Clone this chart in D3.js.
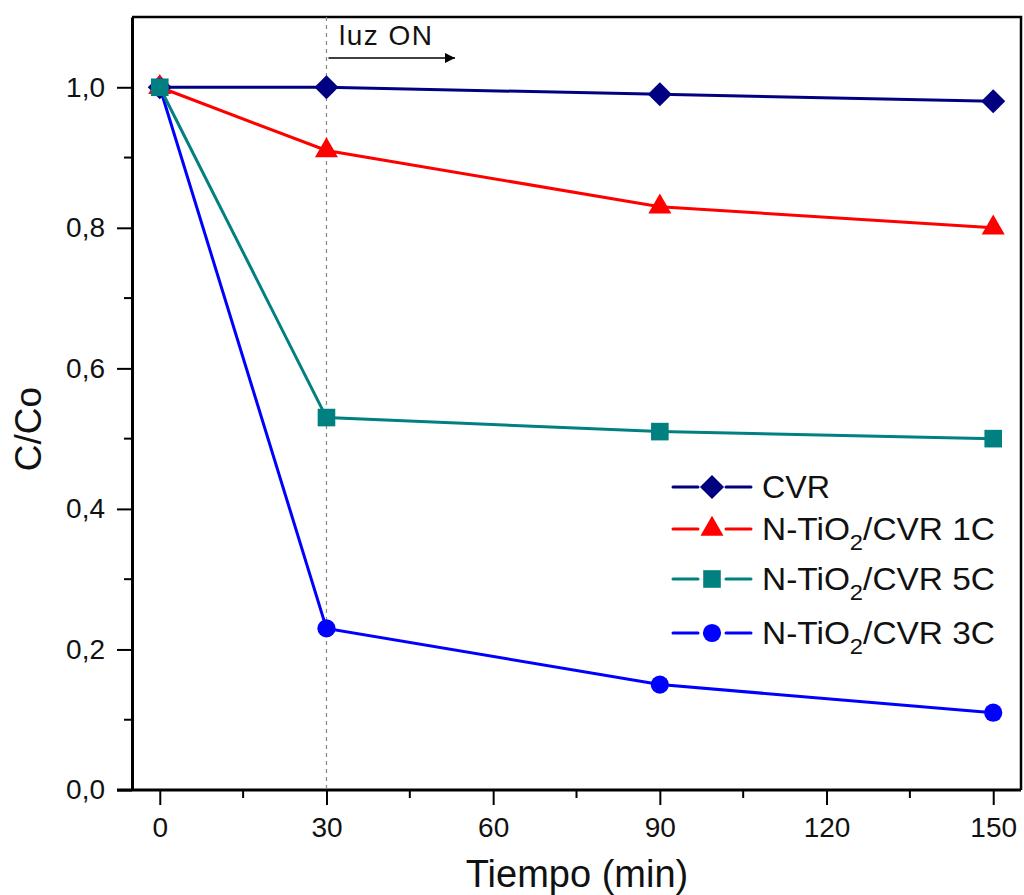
<!DOCTYPE html>
<html lang="es">
<head>
<meta charset="UTF-8">
<title>C/Co vs Tiempo</title>
<script src="https://d3js.org/d3.v7.min.js"></script>
<style>
  body { margin: 0; background: #fff; }
  svg { display: block; font-family: "Liberation Sans", Arial, sans-serif; }
</style>
</head>
<body>
<svg id="chart" width="1024" height="895"></svg>
<script>
// data
var tiempo = [0, 30, 90, 150];
var cvr    = [1.00, 1.00, 0.99, 0.98];
var tio1C  = [1.00, 0.91, 0.83, 0.80];
var tio5C  = [1.00, 0.53, 0.51, 0.50];
var tio3C  = [1.00, 0.23, 0.15, 0.11];
var xTicks = [0, 30, 60, 90, 120, 150];
var yTicks = [0, 0.2, 0.4, 0.6, 0.8, 1.0];
var luzOn = 30;

// drawing order: the 5C squares end on top, as in the figure
var series = [
  { name: 'CVR', sub: null, values: cvr, color: '#000080', symbol: d3.symbolSquare, rot: 45, size: 290, legendY: 487, len: 68 },
  { name: 'N-TiO', sub: '/CVR 1C', values: tio1C, color: '#ff0000', symbol: d3.symbolTriangle, rot: 0, size: 230, legendY: 529, len: 233 },
  { name: 'N-TiO', sub: '/CVR 3C', values: tio3C, color: '#0000ff', symbol: d3.symbolCircle, rot: 0, size: 260, legendY: 633, len: 233 },
  { name: 'N-TiO', sub: '/CVR 5C', values: tio5C, color: '#008080', symbol: d3.symbolSquare, rot: 0, size: 310, legendY: 579, len: 233 }
];

var mLeft = 132, mRight = 1021, mTop = 17, mBottom = 790;
var svg = d3.select('#chart');

var x = d3.scaleLinear().domain([-5, 155]).range([mLeft, mRight]);
var y = d3.scaleLinear().domain([0, 1.1]).range([mBottom, mTop]);

// frame on top and right
svg.append('path')
  .attr('d', 'M' + mLeft + ',' + mTop + 'H' + mRight + 'V' + mBottom)
  .attr('fill', 'none').attr('stroke', '#000').attr('stroke-width', 2.5);

// minor ticks
var xMinor = [15, 45, 75, 105, 135];
var yMinor = [0.1, 0.3, 0.5, 0.7, 0.9];

var xAxis = d3.axisBottom(x).tickValues(xTicks).tickSize(15).tickSizeOuter(0).tickPadding(12)
  .tickFormat(d3.format('d'));
var gx = svg.append('g').attr('transform', 'translate(0,' + mBottom + ')').call(xAxis);
svg.append('g').selectAll('line').data(xMinor).enter().append('line')
  .attr('x1', function (d) { return x(d); }).attr('x2', function (d) { return x(d); })
  .attr('y1', mBottom).attr('y2', mBottom + 8)
  .attr('stroke', '#000').attr('stroke-width', 2);

var yAxis = d3.axisLeft(y).tickValues(yTicks).tickSize(15).tickSizeOuter(0).tickPadding(12)
  .tickFormat(function (d) { return d3.format('.1f')(d).replace('.', ','); });
var gy = svg.append('g').attr('transform', 'translate(' + mLeft + ',0)').call(yAxis);
svg.append('g').selectAll('line').data(yMinor).enter().append('line')
  .attr('x1', mLeft - 8).attr('x2', mLeft)
  .attr('y1', function (d) { return y(d); }).attr('y2', function (d) { return y(d); })
  .attr('stroke', '#000').attr('stroke-width', 2);

[gx, gy].forEach(function (g) {
  g.select('.domain').attr('stroke', '#000').attr('stroke-width', 3);
  g.selectAll('.tick line').attr('stroke', '#000').attr('stroke-width', 2);
  g.selectAll('.tick text').attr('font-size', 28).attr('fill', '#111')
    .attr('font-family', '"Liberation Sans", Arial, sans-serif');
});
// x axis line runs under the 0,0 tick
gx.select('.domain').attr('d', 'M' + (mLeft - 15) + ',0H' + mRight);

// axis titles
svg.append('text').attr('x', 577).attr('y', 887).attr('text-anchor', 'middle')
  .attr('font-size', 38).attr('fill', '#111').text('Tiempo (min)');
svg.append('text').attr('transform', 'translate(41,429) rotate(-90)').attr('text-anchor', 'middle')
  .attr('font-size', 37).attr('fill', '#111').text('C/Co');

// luz ON marker
svg.append('line').attr('x1', x(luzOn)).attr('x2', x(luzOn)).attr('y1', mTop).attr('y2', mBottom)
  .attr('stroke', '#888').attr('stroke-width', 1.2).attr('stroke-dasharray', '4,4');
svg.append('defs').append('marker').attr('id', 'arrow')
  .attr('viewBox', '0 0 10 10').attr('refX', 10).attr('refY', 5)
  .attr('markerWidth', 20).attr('markerHeight', 10).attr('markerUnits', 'userSpaceOnUse')
  .attr('orient', 'auto')
  .append('path').attr('d', 'M0,0L10,5L0,10Z').attr('fill', '#000');
svg.append('line').attr('x1', x(luzOn) + 2).attr('x2', 455).attr('y1', 58).attr('y2', 58)
  .attr('stroke', '#000').attr('stroke-width', 1.5).attr('marker-end', 'url(#arrow)');
svg.append('text').attr('x', 339).attr('y', 45).attr('font-size', 28).attr('fill', '#111')
  .attr('textLength', 93).text('luz ON');

// series lines
var line = d3.line().x(function (d, i) { return x(tiempo[i]); }).y(function (d) { return y(d); });
series.forEach(function (s) {
  svg.append('path').datum(s.values).attr('d', line)
    .attr('fill', 'none').attr('stroke', s.color).attr('stroke-width', 3);
});
series.forEach(function (s) {
  svg.append('g').selectAll('path').data(s.values).enter().append('path')
    .attr('d', d3.symbol().type(s.symbol).size(s.size))
    .attr('transform', function (d, i) {
      return 'translate(' + x(tiempo[i]) + ',' + y(d) + ') rotate(' + s.rot + ')';
    })
    .attr('fill', s.color);
});

// legend
var leg = svg.append('g');
series.forEach(function (s) {
  var g = leg.append('g').attr('transform', 'translate(0,' + s.legendY + ')');
  g.append('line').attr('x1', 673).attr('x2', 698).attr('y1', 0).attr('y2', 0)
    .attr('stroke', s.color).attr('stroke-width', 3).attr('stroke-linecap', 'round');
  g.append('line').attr('x1', 726).attr('x2', 751).attr('y1', 0).attr('y2', 0)
    .attr('stroke', s.color).attr('stroke-width', 3).attr('stroke-linecap', 'round');
  g.append('path').attr('d', d3.symbol().type(s.symbol).size(s.size))
    .attr('transform', 'translate(712,0) rotate(' + s.rot + ')').attr('fill', s.color);
  var t = g.append('text').attr('x', 762).attr('y', 11).attr('font-size', 31).attr('fill', '#111')
    .attr('textLength', s.len).attr('lengthAdjust', 'spacingAndGlyphs');
  t.append('tspan').text(s.name);
  if (s.sub) {
    t.append('tspan').attr('font-size', 22).attr('dy', 10).text('2');
    t.append('tspan').attr('dy', -10).text(s.sub);
  }
});
</script>
</body>
</html>
